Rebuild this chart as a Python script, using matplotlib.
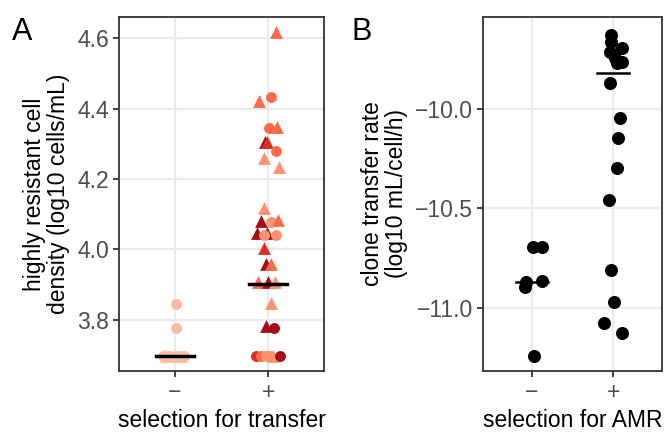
import numpy as np
import matplotlib.pyplot as plt

plt.rcParams['font.family'] = ['Liberation Sans', 'DejaVu Sans']

# panel A: highly resistant cell density (log10 cells/mL)
groups_a = ['\u2212', '+']
minus_a_val = [3.699, 3.699, 3.699, 3.699, 3.699, 3.699, 3.699, 3.699, 3.778, 3.845]
minus_a_dx = [-12, -9, -6, -3, 0, 3, 6, 9, 1, 1]
minus_a_shape = ['o', '^', 'o', '^', '^', 'o', '^', 'o', 'o', 'o']

plus_a_val = [4.618, 4.422, 4.433, 4.344, 4.348, 4.306, 4.306, 4.280, 4.259, 4.233,
              4.117, 4.082, 4.079, 4.084, 4.046, 4.046, 4.041, 4.041, 4.003, 3.958,
              3.958, 3.909, 3.909, 3.909, 3.847, 3.784, 3.778,
              3.699, 3.699, 3.699, 3.699, 3.699, 3.699]
plus_a_dx = [7.7, -9, 3, 1, 8.7, -3, -1, 7.7, -4.3, 11,
             -4, -7.3, 3, 10, -11.3, -1.3, -4, 7.7, -3.7, -2.3,
             3, -9.7, 0.3, 7, 3, -2, 6.3,
             -12, -7, -2, 5, 2, 12]
plus_a_shape = ['^', '^', 'o', 'o', '^', '^', '^', 'o', '^', '^',
                '^', '^', 'o', '^', '^', '^', 'o', 'o', '^', '^',
                '^', '^', '^', '^', '^', '^', 'o',
                'o', 'o', 'o', '^', 'o', 'o']
plus_a_col = [2, 2, 2, 2, 2, 4, 3, 2, 1, 1,
              1, 4, 1, 2, 4, 4, 1, 1, 3, 4,
              2, 2, 4, 1, 1, 4, 4,
              3, 2, 1, 1, 1, 4]
median_a = [3.699, 3.902]

reds = {0: '#fcbba1', 1: '#fc9272', 2: '#fb6a4a', 3: '#de2d26', 4: '#a50f15'}

# panel B: clone transfer rate (log10 mL/cell/h)
groups_b = ['\u2212', '+']
minus_b_val = [-10.697, -10.697, -10.870, -10.895, -10.867, -11.243]
minus_b_dx = [1.3, 10.3, -6, -7, 10.3, 2.3]
plus_b_val = [-9.627, -9.661, -9.694, -9.711, -9.744, -9.762, -9.770, -9.870,
              -10.047, -10.148, -10.299, -10.459, -10.811, -10.971, -11.080, -11.131]
plus_b_dx = [-2.3, -2.3, 8.7, -3, 2, 8.7, 3.7, -3,
             7, 4.7, 3.7, -4, -2.3, 1.3, -8.7, 8.7]
median_b = [-10.870, -9.817]

fig = plt.figure(figsize=(6.64, 4.34), dpi=100)
W, H = 664, 434
axA = fig.add_axes([119 / W, (H - 371) / H, (324 - 119) / W, (371 - 17) / H])
axB = fig.add_axes([483 / W, (H - 371) / H, (662 - 483) / W, (371 - 17) / H])

fs = 16.5
tick_col = '#4d4d4d'
for ax in (axA, axB):
    ax.set_facecolor('white')
    ax.grid(True, color='#ebebeb', lw=1.6, zorder=0)
    ax.set_axisbelow(True)
    for s in ax.spines.values():
        s.set_color('#333333')
        s.set_linewidth(1.3)
    ax.tick_params(colors='#333333', labelcolor=tick_col, labelsize=fs, length=4, width=1.3, pad=3)
    ax.set_xticks([0, 1])
    ax.set_xlim(-0.6, 1.6)

# panel A
pxA = 93.0
for v, dx, m in zip(minus_a_val, minus_a_dx, minus_a_shape):
    s = 62 if m == 'o' else 85
    axA.scatter(0 + dx / pxA, v, marker=m, s=s, color=reds[0], lw=0, zorder=3)
for v, dx, m, c in zip(plus_a_val, plus_a_dx, plus_a_shape, plus_a_col):
    s = 62 if m == 'o' else 85
    axA.scatter(1 + dx / pxA, v, marker=m, s=s, color=reds[c], lw=0, zorder=3)
for i, md in enumerate(median_a):
    axA.plot([i - 0.2, i + 0.2], [md, md], color='black', lw=2.5, zorder=4)
axA.set_ylim(3.655, 4.66)
axA.set_yticks([3.8, 4.0, 4.2, 4.4, 4.6])
axA.set_yticklabels(['3.8', '4.0', '4.2', '4.4', '4.6'])
axA.set_xticklabels(groups_a)
axA.set_xlabel('selection for transfer', fontsize=fs, labelpad=4)
axA.set_ylabel('highly resistant cell\ndensity (log10 cells/mL)', fontsize=fs, labelpad=5,
               linespacing=1.1)

# panel B
pxB = 81.0
axB.scatter([0 + d / pxB for d in minus_b_dx], minus_b_val, s=88, color='black', lw=0, zorder=3)
axB.scatter([1 + d / pxB for d in plus_b_dx], plus_b_val, s=88, color='black', lw=0, zorder=3)
for i, md in enumerate(median_b):
    axB.plot([i - 0.2, i + 0.2], [md, md], color='black', lw=1.8, zorder=4)
axB.set_ylim(-11.32, -9.536)
axB.set_yticks([-11.0, -10.5, -10.0])
axB.set_yticklabels(['\u221211.0', '\u221210.5', '\u221210.0'])
axB.set_xticklabels(groups_b)
axB.set_xlabel('selection for AMR', fontsize=fs, labelpad=4)
axB.set_ylabel('clone transfer rate\n(log10 mL/cell/h)', fontsize=fs, labelpad=5,
               linespacing=1.1)

fig.text(12 / W, 1 - 40 / H, 'A', fontsize=22)
fig.text(352 / W, 1 - 40 / H, 'B', fontsize=22)

fig.savefig('out.png', dpi=100)
